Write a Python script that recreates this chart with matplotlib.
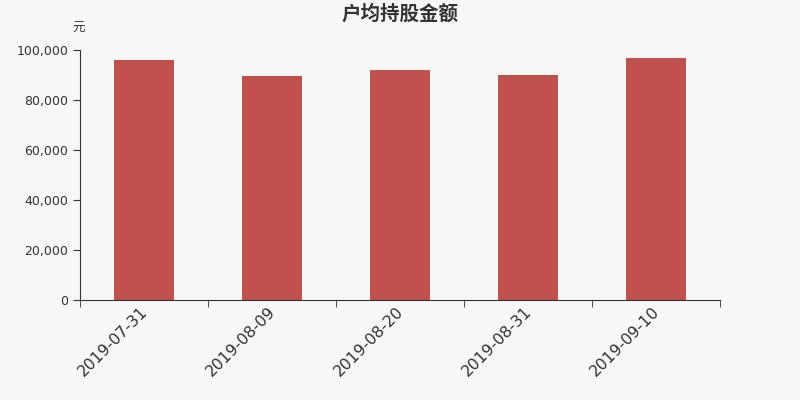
import numpy as np
import matplotlib
matplotlib.use("Agg")
import matplotlib.pyplot as plt
from matplotlib.ticker import FuncFormatter
from matplotlib.transforms import ScaledTranslation

plt.rcParams['font.family'] = ['DejaVu Sans', 'Noto Sans CJK SC']

dates = ["2019-07-31", "2019-08-09", "2019-08-20", "2019-08-31", "2019-09-10"]
values = [96000, 89500, 92000, 90100, 96800]

bg = "#f7f7f7"
fig = plt.figure(figsize=(8, 4), dpi=100, facecolor=bg)
ax = fig.add_axes([0.1, 0.25, 0.8, 0.625], facecolor=bg)

x = np.arange(len(dates))
ax.bar(x, values, width=0.47, color="#c0504d")

ax.set_xlim(-0.5, len(dates) - 0.5)
ax.set_ylim(0, 100000)
ax.set_yticks(np.arange(0, 100001, 20000))
ax.yaxis.set_major_formatter(FuncFormatter(lambda v, p: f"{int(v):,}"))

# labels at bar centres, tick marks at category edges
ax.set_xticks(x)
ax.set_xticklabels(dates, rotation=45, ha="right", rotation_mode="anchor", fontsize=11.3, color="#333333")
ax.tick_params(axis="x", which="major", length=0, pad=3)
shift = ScaledTranslation(-4 / 100, 0, fig.dpi_scale_trans)
for lab in ax.get_xticklabels():
    lab.set_transform(lab.get_transform() + shift)
ax.set_xticks(np.arange(-0.5, len(dates)), minor=True)
ax.tick_params(axis="x", which="minor", length=5, color="#333333")
ax.tick_params(axis="y", length=5, color="#333333", labelsize=9, labelcolor="#333333")

for s in ["top", "right"]:
    ax.spines[s].set_visible(False)
for s in ["left", "bottom"]:
    ax.spines[s].set_color("#333333")

fig.text(0.5, 0.965, "户均持股金额", ha="center", va="center", fontsize=14, fontweight="bold", color="#333333",
         family=["Noto Sans CJK SC", "DejaVu Sans"])
fig.text(0.098, 0.928, "元", ha="center", va="center", fontsize=9, color="#333333",
         family=["Noto Sans CJK SC", "DejaVu Sans"])

fig.savefig("out.png", dpi=100, facecolor=bg)
